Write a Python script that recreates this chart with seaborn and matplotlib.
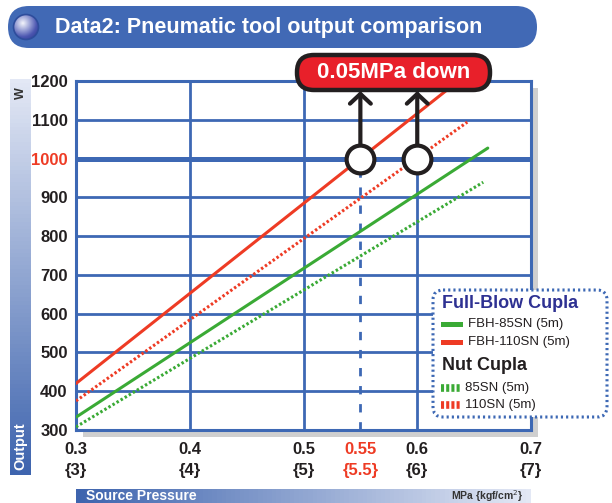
import numpy as np
import pandas as pd
import seaborn as sns
import matplotlib.pyplot as plt
from matplotlib.patches import FancyBboxPatch, Circle, Rectangle
from matplotlib.colors import LinearSegmentedColormap

# ---------------------------------------------------------
# data
# ---------------------------------------------------------
series = ["FBH-85SN (5m)", "FBH-110SN (5m)", "85SN (5m)", "110SN (5m)"]
x_start = [0.3, 0.3, 0.3, 0.3]
x_end = [0.662, 0.64, 0.658, 0.644]
y_start = [333, 420, 308, 375]
y_end = [1027, 1209, 939, 1094]

x_ticks = [0.3, 0.4, 0.5, 0.55, 0.6, 0.7]
x_labels = ["0.3\n{3}", "0.4\n{4}", "0.5\n{5}", "0.55\n{5.5}", "0.6\n{6}", "0.7\n{7}"]
y_ticks = [300, 400, 500, 600, 700, 800, 900, 1000, 1100, 1200]
marked_pressure = [0.55, 0.6]
marked_output = [1000, 1000]

rows = []
for name, xs, xe, ys, ye in zip(series, x_start, x_end, y_start, y_end):
    rows.append({"series": name, "pressure": xs, "output": ys})
    rows.append({"series": name, "pressure": xe, "output": ye})
df = pd.DataFrame(rows)

# ---------------------------------------------------------
# style
# ---------------------------------------------------------
sns.set_style("white")
plt.rcParams['font.family'] = ['Liberation Sans', 'DejaVu Sans']

BLUE = '#3d68b4'
RED = '#ee3b24'
GREEN = '#3aaa35'
INK = '#231f20'
palette = {series[0]: GREEN, series[1]: RED, series[2]: GREEN, series[3]: RED}
dashes = {series[0]: "", series[1]: "", series[2]: (0.8, 0.75), series[3]: (0.8, 0.75)}

W, H = 612, 503
fig = plt.figure(figsize=(W / 100, H / 100), dpi=100)

# background overlay (pixel coordinates)
bg = fig.add_axes([0, 0, 1, 1], zorder=0)
bg.axis('off')

L, R, T, B = 76, 531, 81, 430
ax = fig.add_axes([L / W, 1 - B / H, (R - L) / W, (B - T) / H], zorder=1)

fg = fig.add_axes([0, 0, 1, 1], zorder=3)
fg.axis('off')
fg.patch.set_alpha(0)

# ---------------------------------------------------------
# background decorations
# ---------------------------------------------------------
light = '#e3e8f5'
dark = '#3e64ae'
cm = LinearSegmentedColormap.from_list('strip', [light, dark])

# title banner
bg.add_patch(FancyBboxPatch((8, 6), 529, 42, boxstyle="round,pad=0,rounding_size=21",
                            fc='#4169b5', ec='none'))
yy, xx = np.mgrid[0:1:120j, 0:1:120j]
rad = np.sqrt((xx - 0.38) ** 2 + (yy - 0.35) ** 2)
sph = LinearSegmentedColormap.from_list('sph', ['#f4f5fb', '#9fa6d8', '#4b56b0', '#2e3a92'])
im = bg.imshow(rad, extent=(13, 39, 40, 14), cmap=sph, vmin=0, vmax=0.8, zorder=2)
circ = Circle((26, 27), 12.5, transform=bg.transData)
im.set_clip_path(circ)
bg.add_patch(Circle((26, 27), 12.5, fc='none', ec='#2e4d9c', lw=1.2, zorder=3))
bg.text(55, 27, "Data2: Pneumatic tool output comparison", color='white',
        fontsize=15.5, fontweight='bold', va='center', ha='left', zorder=3)

# y axis strip
bg.imshow(np.linspace(0, 1, 100).reshape(-1, 1), extent=(10, 31, 475, 79), cmap=cm,
          aspect='auto', zorder=1)
bg.text(20.5, 93, "W", rotation=90, color='#333333', fontsize=9, fontweight='bold',
        ha='center', va='center', zorder=2)
bg.text(20.5, 470, "Output", rotation=90, color='white', fontsize=10.5, fontweight='bold',
        ha='center', va='bottom', zorder=2)

# x axis strip
bg.imshow(np.linspace(1, 0, 100).reshape(1, -1), extent=(76, 531, 503, 489), cmap=cm,
          aspect='auto', zorder=1)
bg.text(86, 496, "Source Pressure", color='white', fontsize=10, fontweight='bold',
        ha='left', va='center', zorder=2)
bg.text(524, 496, "MPa {kgf/cm$^2$}", color='#333333', fontsize=7.5, fontweight='bold',
        ha='right', va='center', zorder=2)

# plot shadow
bg.add_patch(Rectangle((L + 7, T + 7), R - L, B - T, fc='#a0a0a0', ec='none', alpha=0.5, zorder=1))
bg.set_xlim(0, W)
bg.set_ylim(H, 0)

# ---------------------------------------------------------
# main chart
# ---------------------------------------------------------
ax.set_facecolor('white')
for yv in y_ticks[1:-1]:
    ax.axhline(yv, color=BLUE, lw=3.6 if yv == 1000 else 2.0, zorder=1)
for xv in [0.4, 0.5, 0.6]:
    ax.axvline(xv, color=BLUE, lw=2.0, zorder=1)
ax.plot([0.55, 0.55], [300, 1000], color=BLUE, lw=2.0, dashes=(3, 3.5), zorder=1)

sns.lineplot(data=df, x='pressure', y='output', hue='series', style='series',
             palette=palette, dashes=dashes, linewidth=2.2, legend=False, ax=ax, zorder=3)

for xm, ym in zip(marked_pressure, marked_output):
    ax.annotate('', xy=(xm, 1174), xytext=(xm, ym), annotation_clip=False,
                arrowprops=dict(arrowstyle='->,head_length=0.7,head_width=0.75', lw=3,
                                color=INK, shrinkA=0, shrinkB=0), zorder=5)
ax.plot(marked_pressure, marked_output, 'o', ms=20, mfc='white', mec=INK, mew=3,
        zorder=6, clip_on=False)

ax.set_xlim(0.3, 0.7)
ax.set_ylim(300, 1200)
ax.set_xlabel('')
ax.set_ylabel('')
for s in ax.spines.values():
    s.set_color(BLUE)
    s.set_linewidth(2.2)
    s.set_zorder(2)

ax.set_xticks(x_ticks, x_labels)
ax.set_yticks(y_ticks, [str(v) for v in y_ticks])
ax.tick_params(length=0)
ax.tick_params(axis='x', pad=9)
ax.tick_params(axis='y', pad=6)
for lab in ax.get_xticklabels():
    lab.set_fontsize(12)
    lab.set_fontweight('bold')
    lab.set_linespacing(1.45)
    lab.set_color(RED if lab.get_text().startswith('0.55') else INK)
for lab in ax.get_yticklabels():
    lab.set_fontsize(12)
    lab.set_fontweight('bold')
    lab.set_color(RED if lab.get_text() == '1000' else INK)

# ---------------------------------------------------------
# foreground: callout box and legend
# ---------------------------------------------------------
fg.add_patch(FancyBboxPatch((297, 55), 193, 35, boxstyle="round,pad=0,rounding_size=17",
                            fc='#e8202a', ec=INK, lw=3.2))
fg.text(394, 72.5, "0.05MPa down", color='white', fontsize=16, fontweight='bold',
        ha='center', va='center')

fg.add_patch(FancyBboxPatch((433, 290), 174, 127, boxstyle="round,pad=0,rounding_size=10",
                            fc='white', ec=BLUE, lw=2.2, ls=(0, (0.7, 1.0))))
fg.text(442, 304, "Full-Blow Cupla", color='#2e3192', fontsize=13, fontweight='bold',
        ha='left', va='center')
fg.text(442, 366, "Nut Cupla", color=INK, fontsize=13, fontweight='bold',
        ha='left', va='center')
leg_y = [324, 342, 388, 405]
for i, (name, yl) in enumerate(zip(series, leg_y)):
    if i < 2:
        fg.add_patch(Rectangle((441, yl - 2.5), 22, 5, fc=palette[name], ec='none'))
        tx = 468
    else:
        fg.plot([441, 461], [yl, yl], color=palette[name], lw=5.5, dashes=(0.4, 0.28),
                solid_capstyle='butt', dash_capstyle='butt')
        tx = 465
    fg.text(tx, yl, name, color=INK, fontsize=9.5, ha='left', va='center')

fg.set_xlim(0, W)
fg.set_ylim(H, 0)

plt.savefig('out.png', dpi=100)
